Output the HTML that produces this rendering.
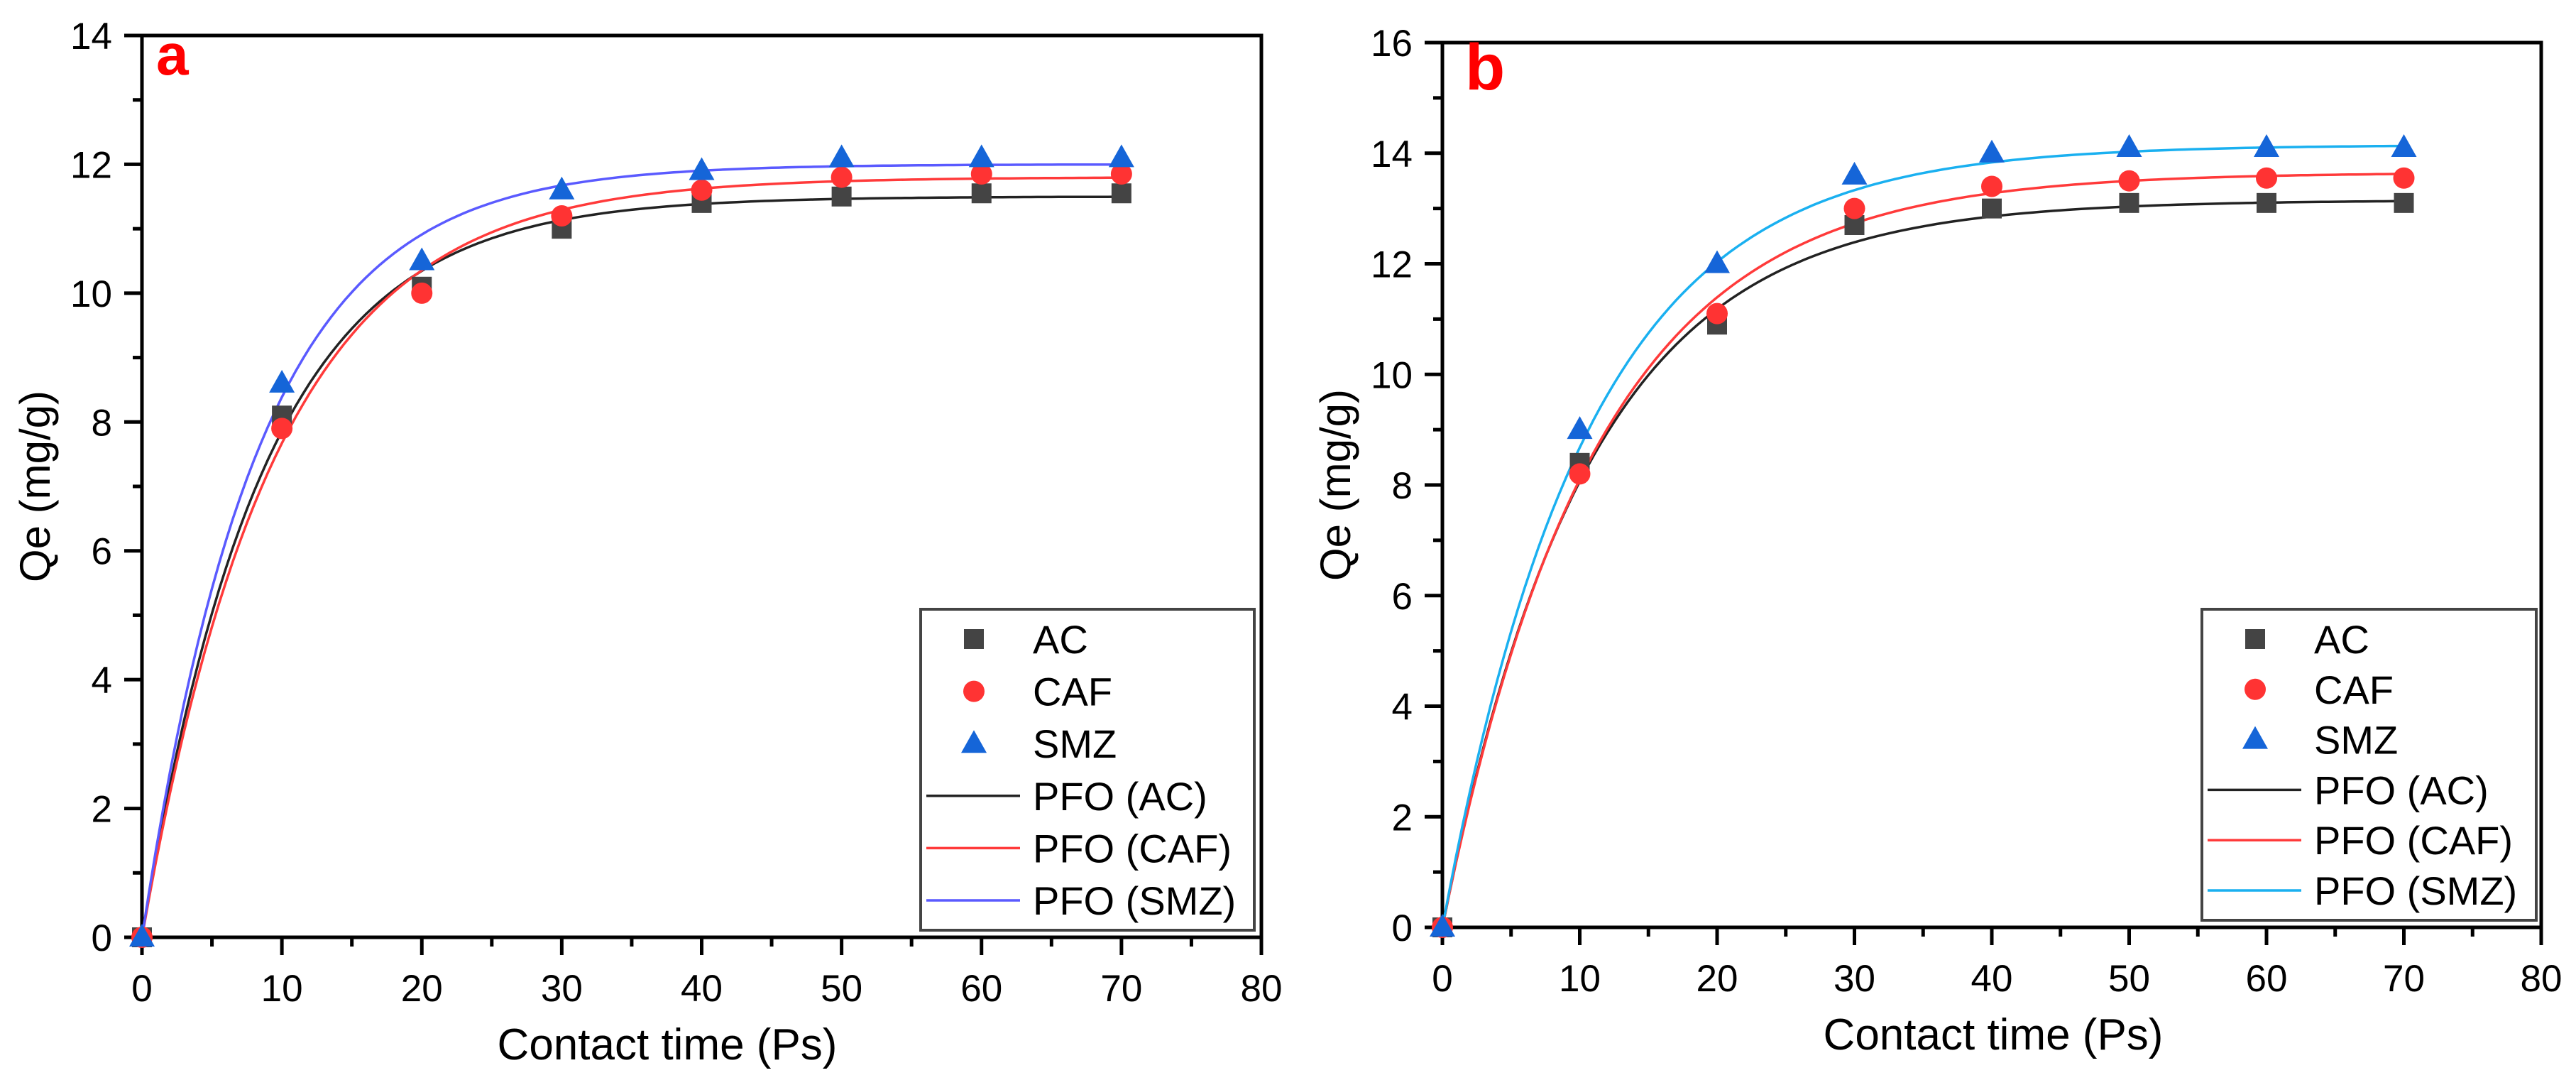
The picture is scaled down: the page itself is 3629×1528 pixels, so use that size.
<!DOCTYPE html>
<html><head><meta charset="utf-8"><style>
html,body{margin:0;padding:0;background:#fff;}
svg{display:block;font-family:"Liberation Sans",Arial,sans-serif;}
</style></head><body>
<svg id="chart" xmlns="http://www.w3.org/2000/svg" width="3629" height="1528" viewBox="0 0 3629 1528"></svg>
<script>
const times = [0,10,20,30,40,50,60,70];
const aAC  = [0,8.1,10.1,11.0,11.4,11.5,11.55,11.55];
const aCAF = [0,7.9,10.0,11.2,11.6,11.8,11.85,11.85];
const aSMZ = [0,8.6,10.5,11.6,11.9,12.1,12.1,12.1];
const bAC  = [0,8.4,10.9,12.7,13.0,13.1,13.1,13.1];
const bCAF = [0,8.2,11.1,13.0,13.4,13.5,13.55,13.55];
const bSMZ = [0,9.0,12.0,13.6,14.0,14.1,14.1,14.1];
// PFO fit parameters [qe, k1]
const aFitAC = [11.5,0.115], aFitCAF = [11.8,0.105], aFitSMZ = [12.0,0.12];
const bFitAC = [13.15,0.095], bFitCAF = [13.65,0.09], bFitSMZ = [14.15,0.095];
const xTicks = [0,10,20,30,40,50,60,70,80];
const aYTicks = [0,2,4,6,8,10,12,14];
const bYTicks = [0,2,4,6,8,10,12,14,16];
const legendLabels = ["AC","CAF","SMZ","PFO (AC)","PFO (CAF)","PFO (SMZ)"];

const NS="http://www.w3.org/2000/svg";
const svg=document.getElementById('chart');
function mk(tag,attrs,parent){const e=document.createElementNS(NS,tag);for(const k in attrs)e.setAttribute(k,attrs[k]);(parent||svg).appendChild(e);return e;}

function panel(p){
  const g=mk('g',{});
  
  
  const X=v=>p.x0+(v-0)/80*(p.x1-p.x0);
  const Y=v=>p.y0-(v/p.ymax)*(p.y0-p.y1);
  const fr=mk('rect',{x:p.x0,y:p.y1,width:p.x1-p.x0,height:p.y0-p.y1,fill:'none',stroke:'#000','stroke-width':5},g);
  
  
  for(let v=0;v<=80;v+=5){
    const major=v%10===0;
    const t=mk('line',{x1:X(v),x2:X(v),y1:p.y0,y2:p.y0+(major?25:13),stroke:'#000','stroke-width':5},g);
    
    
  }
  xTicks.forEach(v=>{
    const t=mk('text',{x:X(v),y:p.y0+90,'font-size':53,'text-anchor':'middle',fill:'#000'},g);
    t.textContent=v;
    
    
  });
  for(let v=0;v<=p.ymax;v+=1){
    const major=v%2===0;
    const t=mk('line',{x1:p.x0,x2:p.x0-(major?25:13),y1:Y(v),y2:Y(v),stroke:'#000','stroke-width':5},g);
    
    
  }
  p.yTicks.forEach(v=>{
    const t=mk('text',{x:p.x0-42,y:Y(v)+19,'font-size':53,'text-anchor':'end',fill:'#000'},g);
    t.textContent=v;
    
    
  });
  const yt=mk('text',{x:0,y:0,'font-size':60,'text-anchor':'middle',fill:'#000',transform:`translate(${p.x0-130},${(p.y0+p.y1)/2}) rotate(-90)`},g);
  yt.textContent='Qe (mg/g)';
  
  
  const xt=mk('text',{x:p.xtc,y:p.y0+172,'font-size':62,'text-anchor':'middle',fill:'#000'},g);
  xt.textContent='Contact time (Ps)';
  
  
  const lb=mk('text',{x:p.x0+(p.id==='a'?20:32),y:p.y1+(p.id==='a'?55:66),'font-size':p.id==='a'?82:92,'font-weight':'bold',fill:'#ff0000'},g);
  lb.textContent=p.id;
  
  
  p.fits.forEach((f,i)=>{
    let d='';
    for(let t=0;t<=70;t+=0.5){const q=f[0]*(1-Math.exp(-f[1]*t));d+=(t===0?'M':'L')+X(t).toFixed(1)+','+Y(q).toFixed(1);}
    const l=mk('path',{d:d,fill:'none',stroke:p.lineColors[i],'stroke-width':3.5},g);
    
    
  });
  const ser=[p.ac,p.caf,p.smz];
  ser.forEach((s,i)=>{
    s.forEach((v,j)=>{
      const cx=X(times[j]),cy=Y(v);
      const m=marker(i,cx,cy,g);
      
      
    });
  });
  const lg=mk('g',{},g);
  
  
  const lr=mk('rect',{x:p.lx,y:p.ly,width:p.lw,height:p.lh,fill:'#fff',stroke:'#444','stroke-width':4},lg);
  
  
  legendLabels.forEach((lab,i)=>{
    const cy=p.ly+42+i*(p.lh-84)/5;
    const e=mk('g',{},lg);
    
    
    if(i<3){marker(i,p.lx+75,cy,e);}
    else{mk('line',{x1:p.lx+8,x2:p.lx+140,y1:cy,y2:cy,stroke:p.lineColors[i-3],'stroke-width':3.5},e);}
    const t=mk('text',{x:p.lx+158,y:cy+20,'font-size':56,fill:'#000'},e);
    t.textContent=lab;
  });
}
function marker(i,cx,cy,g){
  if(i===0) return mk('rect',{x:cx-14,y:cy-14,width:28,height:28,fill:'#444'},g);
  if(i===1) return mk('circle',{cx:cx,cy:cy,r:15,fill:'#ff3333'},g);
  return mk('polygon',{points:`${cx},${cy-19} ${cx-18},${cy+13} ${cx+18},${cy+13}`,fill:'#1565d8'},g);
}
panel({id:'a',x0:200,x1:1777,y0:1320,y1:50,ymax:14,yTicks:aYTicks,xtc:940,
  ac:aAC,caf:aCAF,smz:aSMZ,fits:[aFitAC,aFitCAF,aFitSMZ],lineColors:['#222','#ff3a3a','#5a5aff'],
  lx:1297,ly:858,lw:470,lh:452});
panel({id:'b',x0:2032,x1:3580,y0:1306,y1:60,ymax:16,yTicks:bYTicks,xtc:2808,
  ac:bAC,caf:bCAF,smz:bSMZ,fits:[bFitAC,bFitCAF,bFitSMZ],lineColors:['#222','#ff3a3a','#1ab0f0'],
  lx:3102,ly:858,lw:471,lh:438});
</script>
</body></html>
